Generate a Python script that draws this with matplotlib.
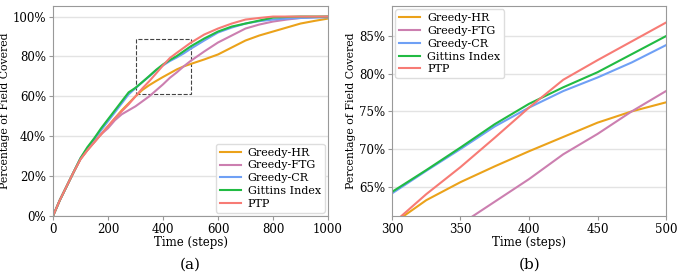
import matplotlib.pyplot as plt
from matplotlib.patches import Rectangle
from matplotlib.ticker import PercentFormatter

plt.rcParams['font.family'] = 'DejaVu Serif'

t = [0, 25, 50, 75, 100, 125, 150, 175, 200, 225, 250, 275, 300, 325, 350, 375, 400,
     425, 450, 475, 500, 550, 600, 650, 700, 750, 800, 850, 900, 950, 1000]

greedy_hr = [0, 0.08, 0.15, 0.22, 0.285, 0.33, 0.37, 0.41, 0.45, 0.49, 0.53, 0.565, 0.600,
             0.632, 0.656, 0.677, 0.697, 0.716, 0.735, 0.750, 0.762, 0.785, 0.81, 0.845,
             0.88, 0.905, 0.925, 0.945, 0.965, 0.978, 0.99]
greedy_ftg = [0, 0.08, 0.15, 0.22, 0.285, 0.33, 0.37, 0.41, 0.44, 0.48, 0.51, 0.53, 0.55,
              0.575, 0.600, 0.630, 0.660, 0.693, 0.720, 0.750, 0.777, 0.825, 0.87, 0.905,
              0.94, 0.96, 0.975, 0.985, 0.993, 0.997, 1.0]
greedy_cr = [0, 0.08, 0.15, 0.22, 0.29, 0.34, 0.385, 0.43, 0.475, 0.52, 0.565, 0.61, 0.641,
             0.671, 0.70, 0.730, 0.755, 0.777, 0.795, 0.815, 0.838, 0.88, 0.92, 0.945,
             0.965, 0.977, 0.985, 0.99, 0.993, 0.995, 0.996]
gittins = [0, 0.08, 0.15, 0.22, 0.29, 0.345, 0.39, 0.44, 0.485, 0.53, 0.575, 0.62, 0.643,
           0.672, 0.702, 0.733, 0.760, 0.782, 0.802, 0.826, 0.850, 0.89, 0.925, 0.95,
           0.965, 0.98, 0.995, 0.998, 1.0, 1.0, 1.0]
ptp = [0, 0.08, 0.15, 0.22, 0.285, 0.33, 0.37, 0.41, 0.45, 0.49, 0.525, 0.56, 0.600,
       0.640, 0.676, 0.715, 0.755, 0.792, 0.818, 0.843, 0.868, 0.91, 0.94, 0.965,
       0.985, 0.993, 1.0, 1.0, 1.0, 1.0, 1.0]

names = ['Greedy-HR', 'Greedy-FTG', 'Greedy-CR', 'Gittins Index', 'PTP']
series = [greedy_hr, greedy_ftg, greedy_cr, gittins, ptp]
colors = ['#eba21a', '#cc7fb0', '#6fa0f5', '#21bb43', '#f77b75']

fig = plt.figure(figsize=(6.91, 2.76), dpi=100)
ax1 = fig.add_axes([53 / 691, 60 / 276, 275 / 691, 210 / 276])
ax2 = fig.add_axes([392 / 691, 60 / 276, 274 / 691, 210 / 276])

for ax in (ax1, ax2):
    for name, ys, c in zip(names, series, colors):
        ax.plot(t, ys, color=c, lw=1.5, label=name)
    ax.yaxis.grid(True, color='#e3e3e3', lw=1)
    ax.set_axisbelow(True)
    for s in ax.spines.values():
        s.set_color('#999999')
    ax.tick_params(labelsize=8.5, length=3, color='#999999', pad=2)
    ax.set_xlabel('Time (steps)', fontsize=8.5, labelpad=0)
    ax.set_ylabel('Percentage of Field Covered', fontsize=7.8, labelpad=2)
    ax.yaxis.set_major_formatter(PercentFormatter(1.0, decimals=0))

legend_kw = dict(fontsize=8, framealpha=1, edgecolor='#dddddd', fancybox=True,
                 borderaxespad=0.3, labelspacing=0.25, handlelength=1.9,
                 handletextpad=0.6, borderpad=0.35)

ax1.set_xlim(0, 1000)
ax1.set_ylim(0, 1.053)
ax1.set_yticks([0, 0.2, 0.4, 0.6, 0.8, 1.0])
ax1.add_patch(Rectangle((300, 0.61), 200, 0.28, fill=False, ls='--', lw=0.8, ec='#444444'))
ax1.legend(loc='lower right', **legend_kw)

ax2.set_xlim(300, 500)
ax2.set_ylim(0.611, 0.89)
ax2.set_yticks([0.65, 0.70, 0.75, 0.80, 0.85])
ax2.legend(loc='upper left', **legend_kw)

fig.text(190 / 691, 1 - 265 / 276, '(a)', ha='center', va='center', fontsize=11)
fig.text(530 / 691, 1 - 265 / 276, '(b)', ha='center', va='center', fontsize=11)

fig.savefig('out.png', dpi=100)
